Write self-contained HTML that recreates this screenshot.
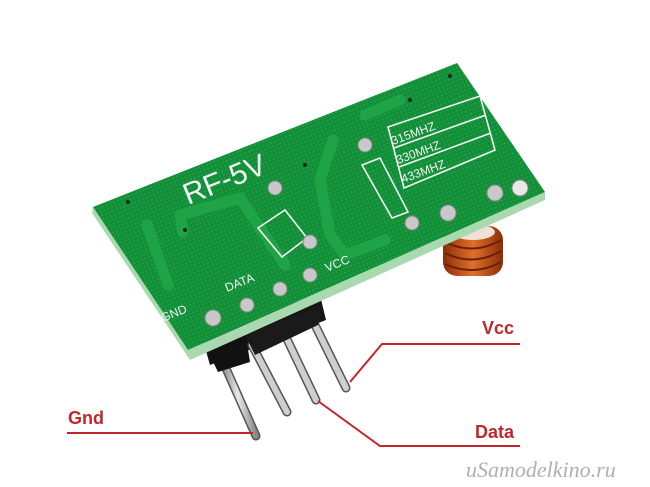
<!DOCTYPE html>
<html><head><meta charset="utf-8"><style>
html,body{margin:0;padding:0;background:#fff;width:650px;height:487px;overflow:hidden}
svg{display:block}
</style></head><body>
<svg width="650" height="487" viewBox="0 0 650 487" xmlns="http://www.w3.org/2000/svg">
<defs>
<pattern id="dots" width="4" height="4" patternUnits="userSpaceOnUse" patternTransform="rotate(-22)">
<rect width="4" height="4" fill="#138f3a"/><circle cx="2" cy="2" r="0.8" fill="#2aa94b"/>
</pattern>
<linearGradient id="pin" x1="0" x2="1"><stop offset="0" stop-color="#777"/><stop offset="0.5" stop-color="#e8e8e8"/><stop offset="1" stop-color="#888"/></linearGradient>
<linearGradient id="cu" x1="0" x2="1"><stop offset="0" stop-color="#8a2e08"/><stop offset="0.5" stop-color="#e0702a"/><stop offset="1" stop-color="#8a2e08"/></linearGradient>
</defs>
<!-- coil -->
<g>
<rect x="443" y="226" width="60" height="50" rx="14" fill="url(#cu)"/>
<ellipse cx="473" cy="232" rx="22" ry="8" fill="#f0e0d6"/>
<path d="M445 242 Q473 256 501 240 M445 253 Q473 267 501 251 M445 264 Q473 277 501 262" stroke="#6a2004" stroke-width="2" fill="none"/>
</g>
<!-- header -->
<polygon points="200,330 320,295 326,320 210,365" fill="#151515"/>
<!-- pins -->
<g stroke-linecap="round">
<line x1="220" y1="355" x2="256" y2="436" stroke="#555" stroke-width="9"/>
<line x1="220" y1="355" x2="256" y2="436" stroke="url(#pin)" stroke-width="6"/>
<line x1="252" y1="345" x2="287" y2="412" stroke="#555" stroke-width="9"/>
<line x1="252" y1="345" x2="287" y2="412" stroke="#cfcfcf" stroke-width="6"/>
<line x1="285" y1="335" x2="316" y2="400" stroke="#555" stroke-width="9"/>
<line x1="285" y1="335" x2="316" y2="400" stroke="#cfcfcf" stroke-width="6"/>
<line x1="315" y1="325" x2="346" y2="388" stroke="#555" stroke-width="9"/>
<line x1="315" y1="325" x2="346" y2="388" stroke="#cfcfcf" stroke-width="6"/>
</g>
<polygon points="205,345 245,330 250,362 218,372" fill="#111"/>
<polygon points="245,335 322,305 318,325 255,355" fill="#1a1a1a"/>
<!-- board edge -->
<polygon points="93,207 188,350 545,192 545,200 190,360 92,213" fill="#a9d9ae"/>
<!-- board face -->
<polygon points="93,207 457,63 545,192 188,350" fill="url(#dots)"/>
<!-- traces -->
<g fill="none" stroke="#1fa347" stroke-width="11" stroke-linejoin="round" stroke-linecap="round">
<path d="M147 225 L168 285"/>
<path d="M183 232 L180 215 L240 198 L285 265"/>
<path d="M333 140 L320 180 L330 235 L345 255 L385 240"/>
<path d="M365 115 L400 100"/>
</g>
<!-- silk -->
<g fill="none" stroke="#f2f2f2" stroke-width="1.6">
<polygon points="258,228 285,210 307,238 282,257"/>
<polygon points="362,165 380,158 408,212 392,218"/>
<polygon points="388,127 480,96 495,150 404,188"/>
<line x1="394" y1="148" x2="486" y2="115"/>
<line x1="399" y1="167" x2="491" y2="133"/>
</g>
<g fill="#f4f4f4" font-family="Liberation Sans, sans-serif">
<text x="188" y="205" font-size="30" transform="rotate(-22 188 205)">RF-5V</text>
<text x="393" y="145" font-size="12" transform="rotate(-20 393 145)">315MHZ</text>
<text x="398" y="164" font-size="12" transform="rotate(-20 398 164)">330MHZ</text>
<text x="403" y="183" font-size="12" transform="rotate(-20 403 183)">433MHZ</text>
<text x="327" y="272" font-size="12" transform="rotate(-22 327 272)">VCC</text>
<text x="227" y="292" font-size="12" transform="rotate(-22 227 292)">DATA</text>
<text x="163" y="322" font-size="12" transform="rotate(-22 163 322)">GND</text>
</g>
<!-- pads -->
<g fill="#c8c8c8" stroke="#888" stroke-width="1">
<circle cx="213" cy="318" r="8"/><circle cx="247" cy="305" r="7"/>
<circle cx="280" cy="289" r="7"/><circle cx="310" cy="275" r="7"/>
<circle cx="275" cy="188" r="7"/><circle cx="310" cy="242" r="7"/>
<circle cx="365" cy="145" r="7"/><circle cx="412" cy="223" r="7"/>
<circle cx="448" cy="213" r="8"/><circle cx="495" cy="193" r="8"/>
<circle cx="520" cy="188" r="8" fill="#e8e8e8"/>
</g>
<g fill="#222"><circle cx="128" cy="202" r="2"/><circle cx="450" cy="76" r="2"/><circle cx="410" cy="100" r="2"/><circle cx="185" cy="230" r="2"/><circle cx="305" cy="165" r="2"/></g>
<!-- callouts -->
<g stroke="#c0272d" stroke-width="2" fill="none">
<polyline points="67,433 253,433"/>
<polyline points="350,382 382,344 520,344"/>
<polyline points="318,401 380,446 520,446"/>
</g>
<g fill="#c0272d" font-family="Liberation Sans, sans-serif" font-weight="bold" font-size="18">
<text x="68" y="424">Gnd</text>
<text x="482" y="334">Vcc</text>
<text x="475" y="438">Data</text>
</g>
<text x="466" y="477" fill="#b0b0b0" font-family="Liberation Serif, serif" font-style="italic" font-size="22">uSamodelkino.ru</text>
</svg>
</body></html>
